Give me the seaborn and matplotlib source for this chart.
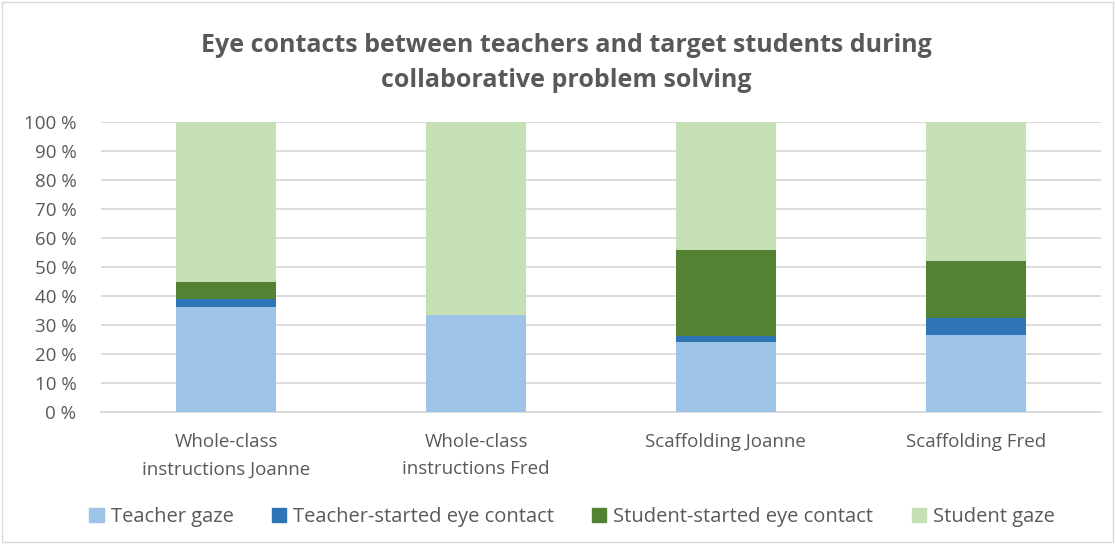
import matplotlib
matplotlib.use("Agg")
import matplotlib.pyplot as plt
import matplotlib.patches as mpatches
import seaborn as sns
import pandas as pd
import numpy as np

categories = ["Whole-class\ninstructions Joanne", "Whole-class\ninstructions Fred",
              "Scaffolding Joanne", "Scaffolding Fred"]
series_names = ["Teacher gaze", "Teacher-started eye contact",
                "Student-started eye contact", "Student gaze"]
teacher_gaze = [36.1, 33.5, 24.0, 26.6]
teacher_started = [2.9, 0.0, 2.3, 5.7]
student_started = [5.8, 0.0, 29.7, 19.9]
student_gaze = [55.2, 66.5, 44.0, 47.8]
colors = ["#9DC3E6", "#2E75B6", "#548235", "#C5E0B4"]
y_ticks = [0, 10, 20, 30, 40, 50, 60, 70, 80, 90, 100]

sns.set_theme(style="white")
plt.rcParams["font.family"] = ["Open Sans", "DejaVu Sans"]
text_color = "#595959"

fig = plt.figure(figsize=(11.15, 5.44), dpi=100)
ax = fig.add_axes([0.091, 0.243, 0.896, 0.532])

stack = np.cumsum(np.array([teacher_gaze, teacher_started, student_started, student_gaze]), axis=0)
# draw tallest first so smaller cumulative segments overlay
for i in range(3, -1, -1):
    df = pd.DataFrame({"cat": categories, "val": stack[i]})
    sns.barplot(data=df, x="cat", y="val", color=colors[i], width=0.4,
                saturation=1, ax=ax, zorder=3, linewidth=0)

ax.set_ylim(0, 100)
ax.set_xlim(-0.5, 3.5)
ax.set_yticks(y_ticks)
ax.set_yticklabels([f"{t} %" for t in y_ticks])
ax.yaxis.grid(True, color="#D9D9D9", linewidth=1.3, zorder=0)
ax.set_axisbelow(True)
for s in ["top", "right", "left"]:
    ax.spines[s].set_visible(False)
ax.spines["bottom"].set_color("#D9D9D9")
ax.spines["bottom"].set_linewidth(1.3)
ax.set_xlabel("")
ax.set_ylabel("")
ax.tick_params(axis="both", length=0, labelsize=13.5, colors=text_color)
ax.tick_params(axis="x", pad=15)
ax.tick_params(axis="y", pad=18)
for lbl in ax.get_xticklabels():
    lbl.set_linespacing(1.7)

fig.text(0.508, 0.884, "Eye contacts between teachers and target students during\ncollaborative problem solving",
         ha="center", va="center", fontsize=18, fontweight="bold", color=text_color, linespacing=1.5)

handles = [mpatches.Patch(color=c, label=n) for c, n in zip(colors, series_names)]
fig.legend(handles=handles, loc="center", bbox_to_anchor=(0.513, 0.05), ncol=4, frameon=False,
           fontsize=14.5, labelcolor=text_color, handlelength=0.7, handleheight=0.7,
           handletextpad=0.35, columnspacing=1.9)

fig.patches.append(mpatches.Rectangle((0.002, 0.003), 0.996, 0.994, transform=fig.transFigure,
                                      fill=False, edgecolor="#D9D9D9", linewidth=1))

fig.savefig("out.png", dpi=100)
